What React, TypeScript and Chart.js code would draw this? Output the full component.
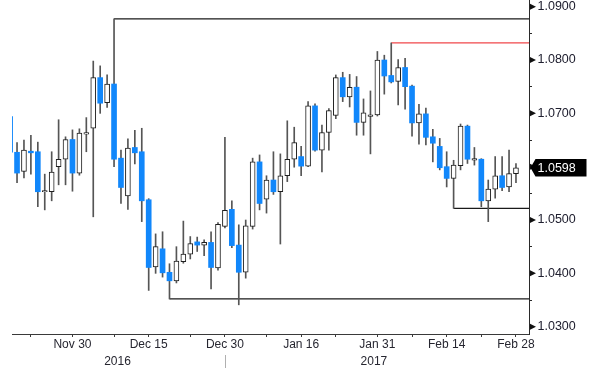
import React, { useEffect, useRef } from 'react';
import { Chart, registerables } from 'chart.js';

Chart.register(...registerables);

// ---- data ----
const dates = [
  'Nov 17', 'Nov 18', 'Nov 21', 'Nov 22', 'Nov 23', 'Nov 24', 'Nov 25', 'Nov 28', 'Nov 29', 'Nov 30',
  'Dec 1', 'Dec 2', 'Dec 5', 'Dec 6', 'Dec 7', 'Dec 8', 'Dec 9', 'Dec 12', 'Dec 13', 'Dec 14', 'Dec 15', 'Dec 16',
  'Dec 19', 'Dec 20', 'Dec 21', 'Dec 22', 'Dec 23', 'Dec 26', 'Dec 27', 'Dec 28', 'Dec 29', 'Dec 30',
  'Jan 2', 'Jan 3', 'Jan 4', 'Jan 5', 'Jan 6', 'Jan 9', 'Jan 10', 'Jan 11', 'Jan 12', 'Jan 13', 'Jan 16', 'Jan 17',
  'Jan 18', 'Jan 19', 'Jan 20', 'Jan 23', 'Jan 24', 'Jan 25', 'Jan 26', 'Jan 27', 'Jan 30', 'Jan 31',
  'Feb 1', 'Feb 2', 'Feb 3', 'Feb 6', 'Feb 7', 'Feb 8', 'Feb 9', 'Feb 10', 'Feb 13', 'Feb 14', 'Feb 15', 'Feb 16',
  'Feb 17', 'Feb 20', 'Feb 21', 'Feb 22', 'Feb 23', 'Feb 24', 'Feb 27', 'Feb 28',
];

const opens = [
  1.0694, 1.0627, 1.0591, 1.0629, 1.0628, 1.0553, 1.0553, 1.0600, 1.0614, 1.0651,
  1.0588, 1.0661, 1.0672, 1.0767, 1.0720, 1.0755, 1.0616, 1.0545, 1.0636, 1.0628, 1.0538, 1.0412,
  1.0446, 1.0402, 1.0386, 1.0422, 1.0436, 1.0459, 1.0453, 1.0458, 1.0410, 1.0488,
  1.0520, 1.0453, 1.0402, 1.0488, 1.0609, 1.0539, 1.0575, 1.0553, 1.0583, 1.0614, 1.0619, 1.0601,
  1.0714, 1.0631, 1.0664, 1.0696, 1.0767, 1.0731, 1.0749, 1.0683, 1.0694, 1.0697,
  1.0800, 1.0771, 1.0760, 1.0786, 1.0751, 1.0682, 1.0699, 1.0656, 1.0638, 1.0600, 1.0578, 1.0602,
  1.0676, 1.0612, 1.0614, 1.0536, 1.0558, 1.0583, 1.0562, 1.0587,
];
const highs = [
  1.0697, 1.0645, 1.0650, 1.0659, 1.0646, 1.0586, 1.0628, 1.0688, 1.0656, 1.0669,
  1.0671, 1.0692, 1.0798, 1.0789, 1.0772, 1.0877, 1.0631, 1.0652, 1.0668, 1.0672, 1.0540, 1.0474,
  1.0478, 1.0418, 1.0450, 1.0498, 1.0469, 1.0468, 1.0463, 1.0478, 1.0495, 1.0655,
  1.0536, 1.0491, 1.0500, 1.0616, 1.0622, 1.0583, 1.0628, 1.0624, 1.0686, 1.0674, 1.0638, 1.0722,
  1.0718, 1.0678, 1.0709, 1.0772, 1.0777, 1.0773, 1.0769, 1.0727, 1.0742, 1.0816,
  1.0809, 1.0832, 1.0801, 1.0803, 1.0753, 1.0717, 1.0710, 1.0670, 1.0653, 1.0628, 1.0612, 1.0680,
  1.0678, 1.0636, 1.0615, 1.0575, 1.0619, 1.0619, 1.0631, 1.0606,
];
const lows = [
  1.0620, 1.0570, 1.0579, 1.0586, 1.0525, 1.0519, 1.0536, 1.0566, 1.0566, 1.0554,
  1.0584, 1.0628, 1.0506, 1.0700, 1.0711, 1.0600, 1.0531, 1.0520, 1.0605, 1.0497, 1.0368, 1.0400,
  1.0393, 1.0352, 1.0382, 1.0419, 1.0427, 1.0441, 1.0433, 1.0371, 1.0406, 1.0485,
  1.0448, 1.0341, 1.0391, 1.0483, 1.0519, 1.0513, 1.0548, 1.0455, 1.0572, 1.0599, 1.0583, 1.0600,
  1.0629, 1.0590, 1.0631, 1.0690, 1.0722, 1.0712, 1.0659, 1.0659, 1.0624, 1.0695,
  1.0736, 1.0757, 1.0716, 1.0708, 1.0657, 1.0642, 1.0641, 1.0609, 1.0594, 1.0562, 1.0522, 1.0594,
  1.0606, 1.0603, 1.0525, 1.0497, 1.0541, 1.0555, 1.0553, 1.0570,
];
const closes = [
  1.0627, 1.0588, 1.0631, 1.0626, 1.0553, 1.0555, 1.0590, 1.0614, 1.0651, 1.0588,
  1.0663, 1.0664, 1.0767, 1.0719, 1.0755, 1.0614, 1.0561, 1.0635, 1.0626, 1.0536, 1.0411, 1.0450,
  1.0401, 1.0386, 1.0423, 1.0436, 1.0456, 1.0453, 1.0458, 1.0411, 1.0492, 1.0518,
  1.0452, 1.0402, 1.0489, 1.0609, 1.0531, 1.0575, 1.0553, 1.0583, 1.0614, 1.0645, 1.0601, 1.0714,
  1.0631, 1.0664, 1.0705, 1.0767, 1.0731, 1.0749, 1.0683, 1.0701, 1.0697, 1.0800,
  1.0770, 1.0759, 1.0786, 1.0750, 1.0682, 1.0699, 1.0655, 1.0644, 1.0598, 1.0578, 1.0603, 1.0676,
  1.0614, 1.0615, 1.0536, 1.0558, 1.0583, 1.0561, 1.0587, 1.0598,
];

const majorTickDates = ['Nov 30', 'Dec 15', 'Dec 30', 'Jan 16', 'Jan 31', 'Feb 14', 'Feb 28'];
const minorTickDates = ['Nov 22', 'Dec 8', 'Dec 23', 'Jan 9', 'Jan 23', 'Feb 7', 'Feb 21'];
const years = ['2016', '2017'];
const yearFirstDates = ['Nov 17', 'Jan 2'];
const yearLastDates = ['Dec 30', 'Feb 28'];

const yTicks = [1.03, 1.035, 1.04, 1.045, 1.05, 1.055, 1.06, 1.065, 1.07, 1.075, 1.08, 1.085, 1.09];
const yMin = 1.02863;
const yMax = 1.09125;

// reference levels: [date, 'high' | 'low']
const levelDates = ['Dec 8', 'Dec 20', 'Feb 15', 'Feb 2'];
const levelKinds = ['high', 'low', 'low', 'high'];

// ---- styles ----
const FONT = "'Liberation Sans Narrow', 'Liberation Sans', Arial, sans-serif";
const UP_FILL = '#ffffff';
const UP_BORDER = '#1e1e1e';
const DOWN_FILL = '#1187fb';
const WICK = '#555555';
const LEVEL_COLORS = ['#1a1a1a', '#1a1a1a', '#1a1a1a', '#f0474a'];

const idx = (d: string) => dates.indexOf(d);

export default function App() {
  const ref = useRef<HTMLCanvasElement | null>(null);

  useEffect(() => {
    document.body.style.margin = '0';
    const canvas = ref.current;
    if (!canvas) return;

    const xMin = 0.274;
    const xMax = 74.88;

    const isUp = closes.map((c, i) => c >= opens[i]);

    const majorIdx = majorTickDates.map(idx);
    const minorIdx = minorTickDates.map(idx);
    const yearPos = years.map((_, k) => (idx(yearFirstDates[k]) + idx(yearLastDates[k])) / 2);
    const yearBreak = idx(yearLastDates[0]);

    const xTickList: { value: number; label: string | string[]; hidden?: boolean }[] = [];
    majorIdx.forEach((v, k) => xTickList.push({ value: v, label: majorTickDates[k] }));
    minorIdx.forEach((v) => xTickList.push({ value: v, label: '' }));
    yearPos.forEach((v, k) => xTickList.push({ value: v, label: ['', years[k]], hidden: true }));
    xTickList.sort((a, b) => a.value - b.value);

    const levelDatasets = levelDates.map((d, k) => {
      const i = idx(d);
      const v = levelKinds[k] === 'high' ? highs[i] : lows[i];
      return {
        type: 'line' as const,
        data: [
          { x: i, y: v },
          { x: xMax + 2, y: v },
        ],
        borderColor: LEVEL_COLORS[k],
        borderWidth: 1.2,
        pointRadius: 0,
        order: 3,
      };
    });

    const overlay = {
      id: 'overlay',
      afterDraw(chart: any) {
        const ctx = chart.ctx;
        const ys = chart.scales.y;
        const xs = chart.scales.x;
        ctx.save();
        // major tick triangles
        ctx.fillStyle = '#111';
        yTicks.forEach((v) => {
          if (Math.round(v * 1000) % 10 !== 0) return;
          const py = ys.getPixelForValue(v);
          ctx.beginPath();
          ctx.moveTo(ys.left + 1, py - 3);
          ctx.lineTo(ys.left + 7, py);
          ctx.lineTo(ys.left + 1, py + 3);
          ctx.closePath();
          ctx.fill();
        });
        // year separator
        const sx = Math.round(xs.getPixelForValue(yearBreak)) + 0.5;
        ctx.strokeStyle = '#b0b0b0';
        ctx.lineWidth = 1;
        ctx.beginPath();
        ctx.moveTo(sx, xs.top + 21);
        ctx.lineTo(sx, xs.top + 34);
        ctx.stroke();
        // last price box
        const last = closes[closes.length - 1];
        const py = ys.getPixelForValue(last);
        const bx = ys.left + 1.5;
        ctx.fillStyle = '#000';
        ctx.beginPath();
        ctx.moveTo(bx, py);
        ctx.lineTo(bx + 5, py - 8.7);
        ctx.lineTo(bx + 56, py - 8.7);
        ctx.lineTo(bx + 56, py + 8.7);
        ctx.lineTo(bx + 5, py + 8.7);
        ctx.closePath();
        ctx.fill();
        ctx.fillStyle = '#fff';
        ctx.font = `12.5px ${FONT}`;
        ctx.textAlign = 'left';
        ctx.textBaseline = 'middle';
        ctx.fillText(last.toFixed(4), ys.left + 8.5, py + 0.5);
        ctx.restore();
      },
    };

    const chart = new Chart(canvas, {
      type: 'bar',
      data: {
        datasets: [
          {
            type: 'bar',
            data: dates.map((_, i) => ({ x: i, y: [opens[i], closes[i]] })),
            backgroundColor: isUp.map((u) => (u ? UP_FILL : DOWN_FILL)),
            borderColor: isUp.map((u) => (u ? UP_BORDER : DOWN_FILL)),
            borderWidth: isUp.map((u) => (u ? 1 : 0)),
            borderSkipped: false,
            barThickness: 5,
            grouped: false,
            order: 1,
          } as any,
          {
            type: 'bar',
            data: dates.map((_, i) => ({ x: i, y: [lows[i], highs[i]] })),
            backgroundColor: WICK,
            borderWidth: 0,
            barThickness: 1,
            grouped: false,
            order: 2,
          } as any,
          ...levelDatasets,
        ],
      },
      options: {
        animation: false,
        responsive: false,
        devicePixelRatio: 1,
        layout: { padding: { left: 12, right: 0, top: 0, bottom: 0 } },
        plugins: { legend: { display: false }, tooltip: { enabled: false } },
        scales: {
          x: {
            type: 'linear',
            min: xMin,
            max: xMax,
            offset: false,
            afterBuildTicks: (scale: any) => {
              scale.ticks = xTickList.map((t) => ({ value: t.value }));
            },
            afterFit: (scale: any) => {
              scale.height = 43;
              scale.paddingLeft = 0;
              scale.paddingRight = 0;
            },
            border: { display: true, color: '#3a3a3a', width: 1 },
            grid: {
              display: true,
              offset: false,
              drawOnChartArea: false,
              drawTicks: true,
              tickLength: 3,
              tickColor: (ctx: any) => {
                const t = xTickList.find((k) => ctx.tick && k.value === ctx.tick.value);
                return t && t.hidden ? 'rgba(0,0,0,0)' : '#3a3a3a';
              },
            },
            ticks: {
              autoSkip: false,
              maxRotation: 0,
              minRotation: 0,
              padding: 0,
              color: '#262630',
              font: { family: FONT, size: 12, lineHeight: 1.35 },
              callback: (value: any) => {
                const t = xTickList.find((k) => k.value === value);
                return t ? t.label : '';
              },
            },
          },
          y: {
            type: 'linear',
            position: 'right',
            min: yMin,
            max: yMax,
            afterBuildTicks: (scale: any) => {
              scale.ticks = yTicks.map((v) => ({ value: v }));
            },
            afterFit: (scale: any) => {
              scale.width = 71;
              scale.paddingTop = 0;
              scale.paddingBottom = 0;
            },
            border: { display: true, color: '#2a2a2a', width: 1 },
            grid: {
              display: true,
              drawOnChartArea: false,
              drawTicks: true,
              tickLength: 3,
              tickColor: '#2a2a2a',
            },
            ticks: {
              padding: 5.5,
              color: '#202030',
              font: { family: FONT, size: 12.5, lineHeight: 1 },
              callback: (value: any) => (Math.round(value * 1000) % 10 === 0 ? Number(value).toFixed(4) : ''),
            },
          },
        },
      } as any,
      plugins: [overlay],
    });

    return () => chart.destroy();
  }, []);

  return (
    <div style={{ position: 'absolute', left: 0, top: 0, width: 600, height: 377, background: '#fff' }}>
      <canvas ref={ref} width={600} height={377} style={{ display: 'block', width: 600, height: 377 }} />
    </div>
  );
}
